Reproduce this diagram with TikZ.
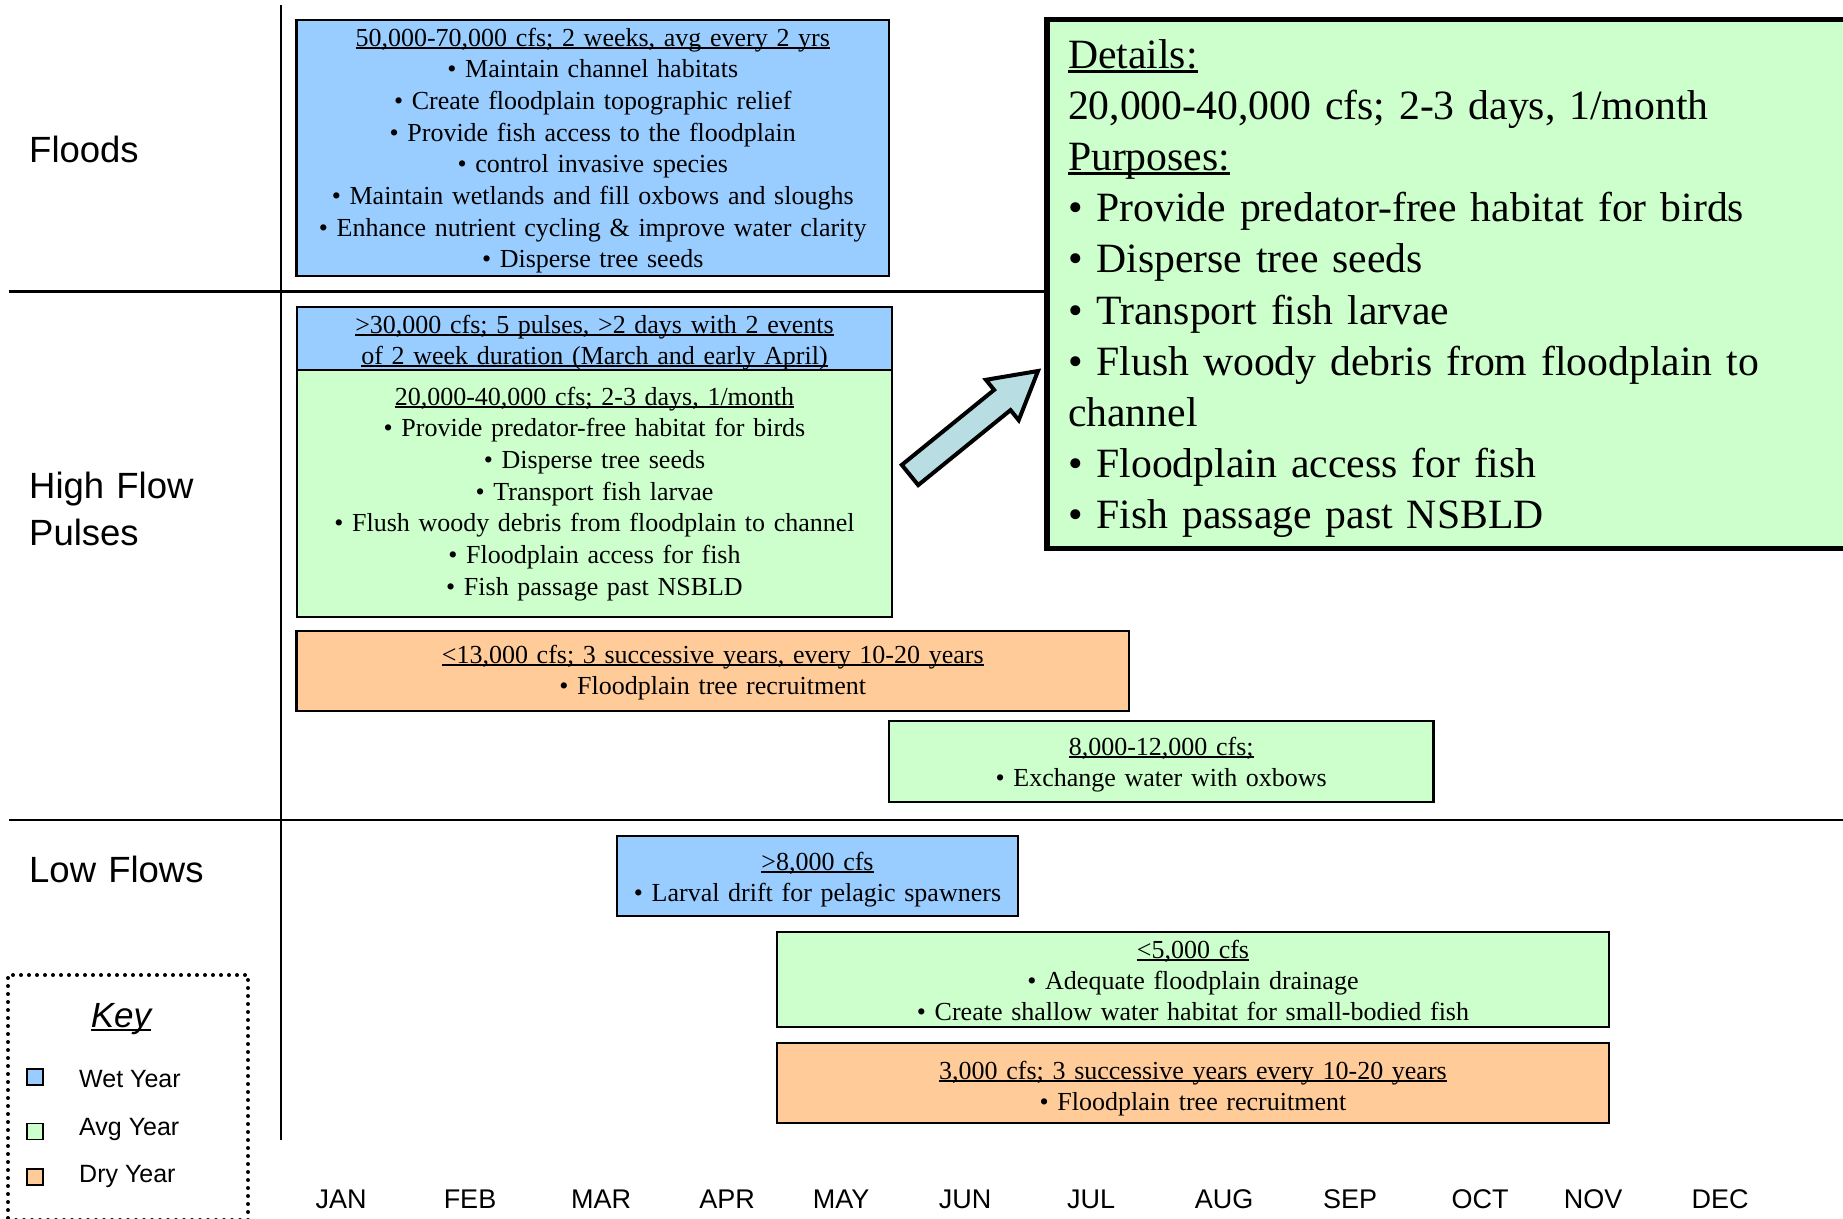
\documentclass[tikz,border=0pt]{standalone}
\usepackage{fontspec}
\setmainfont{Liberation Serif}
\newfontfamily\labsans{Liberation Sans}
\definecolor{wet}{HTML}{99CCFF}
\definecolor{avg}{HTML}{CCFFCC}
\definecolor{dry}{HTML}{FFCC99}
\definecolor{arrowfill}{HTML}{B8DEE3}
\newsavebox\ulbx
\newcommand\ulx[1]{\leavevmode\sbox\ulbx{#1}\rlap{\rule[-0.11em]{\wd\ulbx}{0.065em}}\usebox\ulbx}
\newcommand\fbx[6]{\node[flowbox, fill=#6, minimum width={#3-#1}, minimum height={#4-#2}] (#5) at (#1,#2) {};}
\begin{document}
\begin{tikzpicture}[x=1pt,y=-1pt,
  flowbox/.style={draw=black, line width=2.5pt, inner sep=0pt, outer sep=0pt, anchor=north west},
  boxtxt/.style={anchor=north, inner sep=0pt, outer sep=0pt, align=center, font=\fontsize{26}{31.7}\selectfont},
  rowlab/.style={anchor=north west, inner sep=0pt, align=left, text width=250pt, font=\labsans\fontsize{36.5}{47}\selectfont},
  month/.style={anchor=base, inner sep=0pt, font=\labsans\fontsize{27}{32}\selectfont},
  keylab/.style={anchor=base west, inner sep=0pt, font=\labsans\fontsize{25}{30}\selectfont},
  keysq/.style={draw=black, line width=1.8pt, minimum size=16pt, inner sep=0pt},
  gridline/.style={line width=2.5pt}]
\useasboundingbox (0,0) rectangle (1843,1218);
\clip (0,0) rectangle (1843,1218);

% grid
\draw[gridline] (281,5) -- (281,1140);
\draw[gridline] (9,291.5) -- (1047,291.5);
\draw[gridline] (9,820) -- (1843,820);

% row labels
\node[rowlab] (lfloods) at (29,135) {\rule{0pt}{27pt}Floods};
\node[rowlab] (lhfp) at (29,471) {\rule{0pt}{27pt}High Flow\\Pulses};
\node[rowlab] (llow) at (29,855) {\rule{0pt}{27pt}Low Flows};

% boxes
\fbx{296.5}{20}{889}{276}{floods}{wet}
\node[boxtxt, text width=588pt] (floodst) at (592.75,22) {\rule{0pt}{24pt}\ulx{50,000-70,000 cfs; 2 weeks, avg every 2 yrs}\\
• Maintain channel habitats\\
• Create floodplain topographic relief\\
• Provide fish access to the floodplain\\
• control invasive species\\
• Maintain wetlands and fill oxbows and sloughs\\
• Enhance nutrient cycling \& improve water clarity\\
• Disperse tree seeds};

\fbx{297}{307}{892}{370}{hfpwet}{wet}
\node[boxtxt, text width=590pt, font=\fontsize{26}{31}\selectfont] (hfpwett) at (594.5,309) {\rule{0pt}{24pt}\ulx{>30,000 cfs; 5 pulses, >2 days with 2 events}\\
\ulx{of 2 week duration (March and early April)}};

\fbx{297}{370}{892}{617}{hfpavg}{avg}
\node[boxtxt, text width=590pt] (hfpavgt) at (594.5,381) {\rule{0pt}{24pt}\ulx{20,000-40,000 cfs; 2-3 days, 1/month}\\
• Provide predator-free habitat for birds\\
• Disperse tree seeds\\
• Transport fish larvae\\
• Flush woody debris from floodplain to channel\\
• Floodplain access for fish\\
• Fish passage past NSBLD};

\fbx{296.5}{631}{1129}{711}{dry13}{dry}
\node[boxtxt, text width=828pt] (dry13t) at (712.75,639) {\rule{0pt}{24pt}\ulx{<13,000 cfs; 3 successive years, every 10-20 years}\\
• Floodplain tree recruitment};

\fbx{889}{721}{1433.5}{802}{avg8}{avg}
\node[boxtxt, text width=540pt] (avg8t) at (1161.25,731) {\rule{0pt}{24pt}\ulx{8,000-12,000 cfs;}\\
• Exchange water with oxbows};

\fbx{617}{836}{1018}{916}{wet8}{wet}
\node[boxtxt, text width=397pt] (wet8t) at (817.5,846) {\rule{0pt}{24pt}\ulx{>8,000 cfs}\\
• Larval drift for pelagic spawners};

\fbx{777}{932}{1609}{1027}{avg5}{avg}
\node[boxtxt, text width=828pt, font=\fontsize{26}{31}\selectfont] (avg5t) at (1193,934) {\rule{0pt}{24pt}\ulx{<5,000 cfs}\\
• Adequate floodplain drainage\\
• Create shallow water habitat for small-bodied fish};

\fbx{777}{1043}{1609}{1123}{dry3}{dry}
\node[boxtxt, text width=828pt, font=\fontsize{26}{31}\selectfont] (dry3t) at (1193,1055) {\rule{0pt}{24pt}\ulx{3,000 cfs; 3 successive years every 10-20 years}\\
• Floodplain tree recruitment};

% details box
\node[draw=black, line width=5.5pt, fill=avg, inner sep=0pt, outer sep=0pt, anchor=north west, minimum width=830pt, minimum height=529pt] (details) at (1047,19.5) {};
\node[anchor=north west, inner sep=0pt, outer sep=0pt, align=left, text width=770pt, font=\fontsize{41.7}{51.2}\selectfont] (detailst) at (1068,28) {\rule{0pt}{40pt}\ulx{Details:}\\
20,000-40,000 cfs; 2-3 days, 1/month\\
\ulx{Purposes:}\\
• Provide predator-free habitat for birds\\
• Disperse tree seeds\\
• Transport fish larvae\\
• Flush woody debris from floodplain to\\
channel\\
• Floodplain access for fish\\
• Fish passage past NSBLD};

% block arrow
\draw[line width=4pt, fill=arrowfill, line join=miter] (901.8,464.9) -- (994.1,389.9) -- (985.9,379.8) -- (1038,371) -- (1018.7,420.2) -- (1010.5,410.1) -- (918.2,485.1) -- cycle;

% months
\node[month] (jan) at (341,1208) {JAN};
\node[month] (feb) at (470,1208) {FEB};
\node[month] (mar) at (601,1208) {MAR};
\node[month] (apr) at (727,1208) {APR};
\node[month] (may) at (841,1208) {MAY};
\node[month] (jun) at (965,1208) {JUN};
\node[month] (jul) at (1091,1208) {JUL};
\node[month] (aug) at (1224,1208) {AUG};
\node[month] (sep) at (1350,1208) {SEP};
\node[month] (oct) at (1480,1208) {OCT};
\node[month] (nov) at (1593,1208) {NOV};
\node[month] (dec) at (1720,1208) {DEC};

% key
\node[draw=black, line width=4pt, line cap=round, dash pattern=on 0pt off 8pt, inner sep=0pt, outer sep=0pt, anchor=north west, minimum width=240pt, minimum height=245pt] (keybox) at (8,975) {};
\node[anchor=base, inner sep=0pt, font=\labsans\itshape\fontsize{35}{40}\selectfont] (keytitle) at (121,1027) {\ulx{Key}};
\node[keysq, fill=wet] (keywet) at (35,1077) {};
\node[keysq, fill=avg] (keyavg) at (35,1131.5) {};
\node[keysq, fill=dry] (keydry) at (35,1177) {};
\node[keylab] (keywett) at (79,1087) {Wet Year};
\node[keylab] (keyavgt) at (79,1135) {Avg Year};
\node[keylab] (keydryt) at (79,1182) {Dry Year};
\end{tikzpicture}
\end{document}
